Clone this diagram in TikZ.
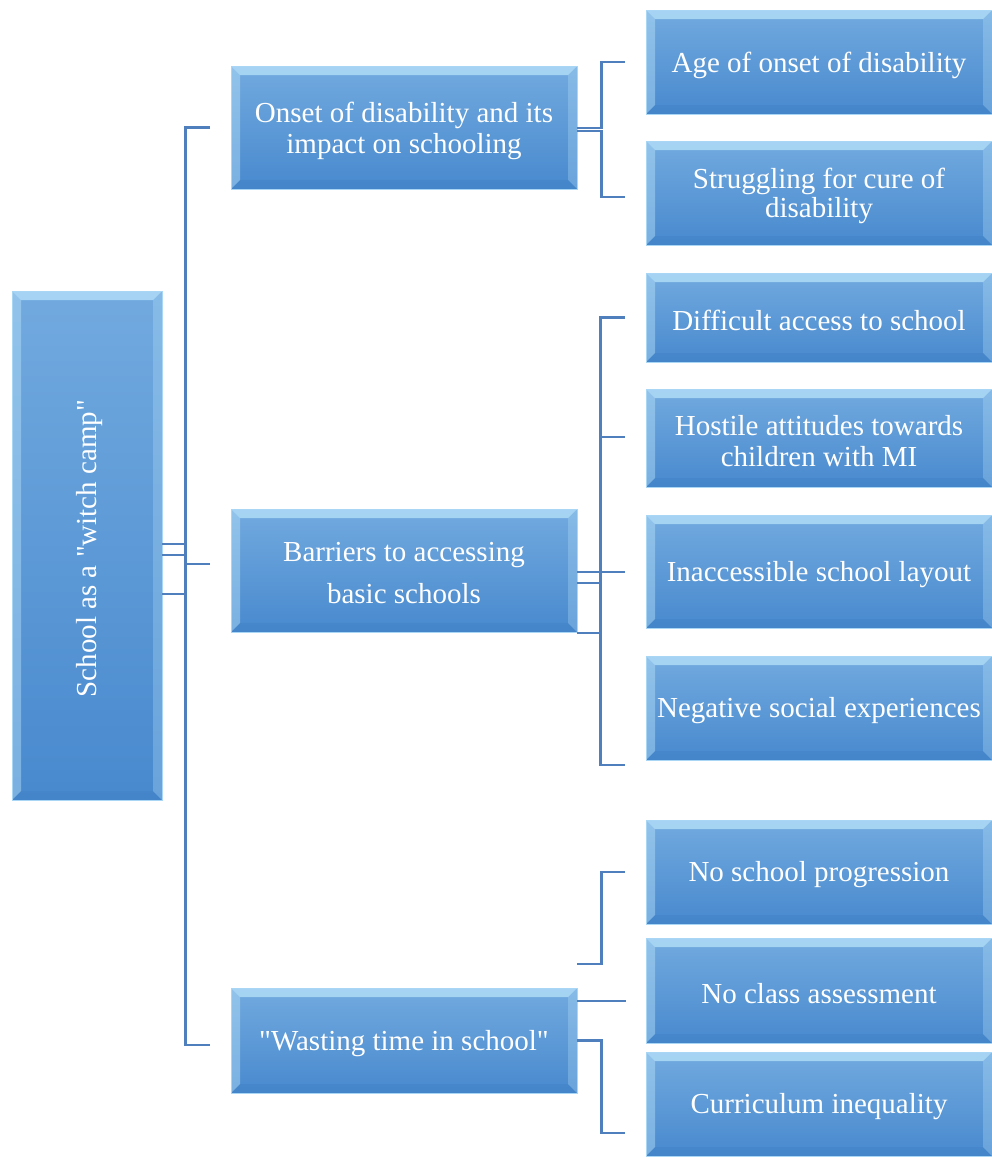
\documentclass[tikz,border=0pt]{standalone}
\usepackage{fontspec}
\usepackage{graphicx}
\setmainfont{Liberation Serif}[Ligatures=TeXOff]
\definecolor{boxtop}{HTML}{72AADF}
\definecolor{boxbot}{HTML}{4889CE}
\definecolor{boxedge}{HTML}{A9D6F4}
\definecolor{bevlight}{HTML}{B8E2FA}
\definecolor{bevdark}{HTML}{3A78BC}
\definecolor{linec}{HTML}{4F7FBC}
\newcommand{\bv}{9pt}
\tikzset{
  box/.style={rectangle, draw=boxedge, line width=0.8pt,
    top color=boxtop, bottom color=boxbot, inner sep=0pt,
    path picture={
      % bevel: top and left faces lit, right and bottom faces shaded
      \fill[bevlight, opacity=0.75]
        (path picture bounding box.north west) -- (path picture bounding box.north east)
        -- ([shift={(-\bv,-\bv)}]path picture bounding box.north east)
        -- ([shift={(\bv,-\bv)}]path picture bounding box.north west) -- cycle;
      \fill[bevlight, opacity=0.45]
        (path picture bounding box.north west) -- ([shift={(\bv,-\bv)}]path picture bounding box.north west)
        -- ([shift={(\bv,\bv)}]path picture bounding box.south west)
        -- (path picture bounding box.south west) -- cycle;
      \fill[bevlight, opacity=0.30]
        (path picture bounding box.north east) -- ([shift={(-\bv,-\bv)}]path picture bounding box.north east)
        -- ([shift={(-\bv,\bv)}]path picture bounding box.south east)
        -- (path picture bounding box.south east) -- cycle;
      \fill[bevdark, opacity=0.25]
        (path picture bounding box.south west) -- ([shift={(\bv,\bv)}]path picture bounding box.south west)
        -- ([shift={(-\bv,\bv)}]path picture bounding box.south east)
        -- (path picture bounding box.south east) -- cycle;
    }},
  txt/.style={text=white, font=\fontsize{29}{31}\selectfont, align=center,
    inner sep=0pt, yshift=-3pt},
  say/.style={label={[txt]center:{#1}}},
  leaf/.style={box, minimum width=346pt},
  mid/.style={box, minimum width=346pt, minimum height=123pt},
  conn/.style={draw=linec, line width=2.6pt},
}
\begin{document}
\begin{tikzpicture}[x=1pt, y=-1pt]
\useasboundingbox (0,0) rectangle (992,1157);

% root
\node[box, minimum width=150pt, minimum height=509pt,
      label={[txt, xshift=3pt]center:{\rotatebox{90}{School as a "witch camp"}}}] (root) at (87,545.5) {};

% first level
\node[mid, say={Onset of disability and its\\impact on schooling}] (A) at (404,127.5) {};
\node[mid, label={[txt, font=\fontsize{29}{42}\selectfont]center:{Barriers to accessing\\basic schools}}] (B) at (404,570.5) {};
\node[box, minimum width=346pt, minimum height=105pt, say={"Wasting time in school"}] (C) at (404,1040.5) {};

% second level
\node[leaf, minimum height=104pt, say={Age of onset of disability}] (a1) at (819,62) {};
\node[leaf, minimum height=104pt,
      label={[txt, font=\fontsize{29}{29}\selectfont]center:{Struggling for cure of\\disability}}] (a2) at (819,193) {};
\node[leaf, minimum height=89pt,  say={Difficult access to school}]  (b1) at (819,317.5) {};
\node[leaf, minimum height=98pt,  say={Hostile attitudes towards\\children with MI}] (b2) at (819,438) {};
\node[leaf, minimum height=113pt, say={Inaccessible school layout}] (b3) at (819,571.5) {};
\node[leaf, minimum height=104pt, say={Negative social experiences}] (b4) at (819,708) {};
\node[leaf, minimum height=104pt, say={No school progression}] (c1) at (819,872) {};
\node[leaf, minimum height=105pt, say={No class assessment}]   (c2) at (819,990.5) {};
\node[leaf, minimum height=104pt, say={Curriculum inequality}] (c3) at (819,1104) {};

% root to first level
\draw[conn] ([yshift=-9.5pt]root.east) -| ([xshift=-45pt]A.west) -- ([xshift=-21pt]A.west);
\draw[conn] ([yshift=-48.5pt]root.east) -| ([xshift=-45pt,yshift=6.5pt]B.west) -- ([xshift=-21pt,yshift=6.5pt]B.west);
\draw[conn] ([yshift=1.5pt]root.east) -| ([xshift=-45pt,yshift=-4.5pt]C.west) -- ([xshift=-21pt,yshift=-4.5pt]C.west);

% onset group
\draw[conn] ([yshift=-0.5pt]A.east) -| ([xshift=-44pt]a1.west) -- ([xshift=-21pt]a1.west);
\draw[conn] ([yshift=-3.5pt]A.east) -| ([xshift=-44pt,yshift=-4pt]a2.west) -- ([xshift=-21pt,yshift=-4pt]a2.west);

% barriers group
\draw[conn] ([yshift=-1.5pt]B.east) -| ([xshift=-45pt]b1.west) -- ([xshift=-21pt]b1.west);
\draw[conn] ([yshift=-12.5pt]B.east) -| ([xshift=-45pt,yshift=1pt]b2.west) -- ([xshift=-21pt,yshift=1pt]b2.west);
\draw[conn] ([yshift=-62.5pt]B.east) -| ([xshift=-45pt,yshift=-0.5pt]b3.west) -- ([xshift=-21pt,yshift=-0.5pt]b3.west);
\draw[conn] ([yshift=-62.5pt]B.east) -| ([xshift=-45pt,yshift=-57pt]b4.west) -- ([xshift=-21pt,yshift=-57pt]b4.west);

% wasting time group
\draw[conn] ([yshift=76.5pt]C.east) -| ([xshift=-44pt]c1.west) -- ([xshift=-21pt]c1.west);
\draw[conn] ([yshift=39.5pt]C.east) -- ([xshift=-20pt,yshift=-10.5pt]c2.west);
\draw[conn] (C.east) -| ([xshift=-44pt,yshift=-29pt]c3.west) -- ([xshift=-21pt,yshift=-29pt]c3.west);
\end{tikzpicture}
\end{document}
